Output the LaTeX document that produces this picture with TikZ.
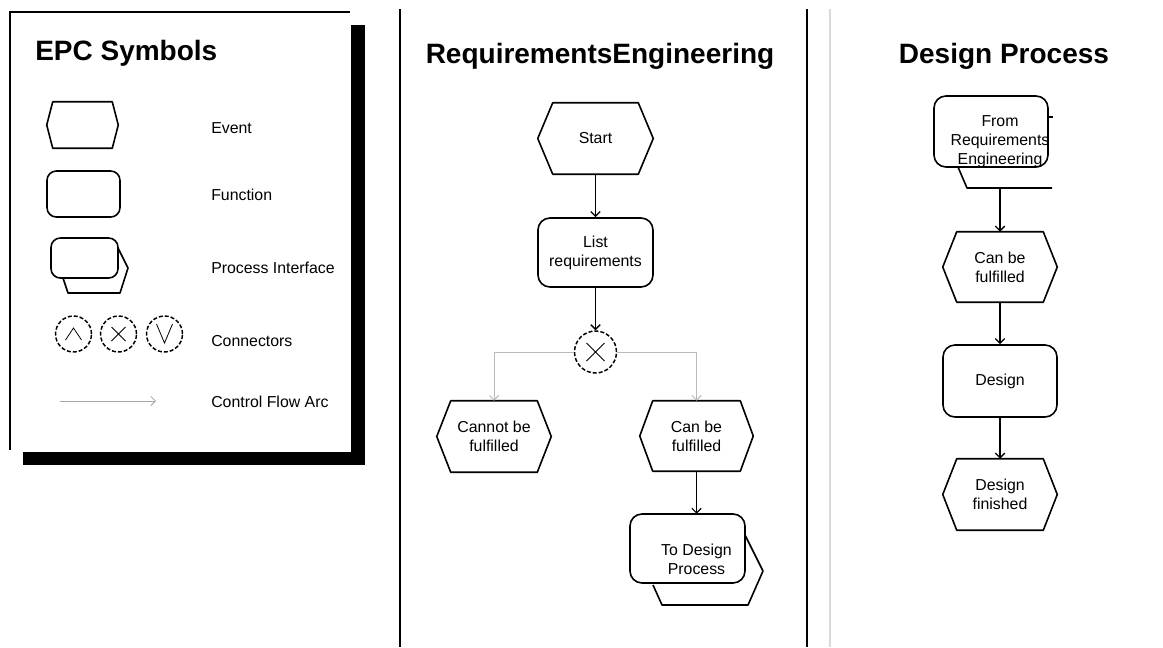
\documentclass[tikz,border=0pt]{standalone}
\usepackage{fontspec}
\setmainfont{Liberation Sans}
\usetikzlibrary{calc,arrows.meta}
\newcommand\epcbody{\fontsize{11.9}{14.2}\selectfont}
\newcommand\epctitle{\fontsize{21}{25}\selectfont\bfseries}
\newcommand\hexdraw[2]{\draw[shapeline] ($(#1.north west)+(#2,0)$) -- ($(#1.north east)+(-#2,0)$) -- (#1.east) -- ($(#1.south east)+(-#2,0)$) -- ($(#1.south west)+(#2,0)$) -- (#1.west) -- cycle;}
\tikzset{
  shapeline/.style={line width=1.2pt, draw=black, line join=round},
  hexnode/.style={draw=none, inner sep=0pt, align=center, font=\epcbody},
  fnbox/.style={shapeline, rounded corners=7pt, inner sep=0pt, align=center, font=\epcbody},
  conn/.style={circle, draw=black, dash pattern=on 3pt off 1.5pt, line width=1.1pt, inner sep=0pt},
  connsym/.style={line width=0.6pt, black},
  flow/.style={line width=1pt, black, -{Straight Barb[length=3.5pt,width=7pt]}},
  grayflow/.style={line width=0.7pt, gray!55, -{Straight Barb[length=3.5pt,width=7pt]}},
  legendtext/.style={anchor=base west, font=\epcbody, inner sep=0pt},
  titletext/.style={font=\epctitle, inner sep=0pt},
  divider/.style={line width=1.3pt, black},
}
\begin{document}
\begin{tikzpicture}[x=0.75pt, y=-0.75pt]
\useasboundingbox (0,0) rectangle (1163,647);

% ---------- legend panel ----------
\fill[black] (23,25) rectangle (365,465);
\fill[white] (10,12) rectangle (351,452);
\draw[line width=1pt] (10,450) -- (10,12) -- (350,12);
\node[titletext, anchor=base west] (ltitle) at (35,60) {EPC Symbols};

\node[hexnode, minimum width=53.25pt, minimum height=34.5pt] (lev) at (82.5,125) {};
\hexdraw{lev}{6}
\node[fnbox, minimum width=54.75pt, minimum height=34.5pt] (lfn) at (83.5,194) {};
\node[fnbox, minimum width=50.25pt, minimum height=30pt] (lpi) at (84.5,258) {};
\draw[shapeline] (118,248) -- (128,268) -- (120,293) -- (68,293) -- (63,278);

\node[conn, minimum size=27pt] (c1) at (73.5,334) {};
\node[conn, minimum size=27pt] (c2) at (118.5,334) {};
\node[conn, minimum size=27pt] (c3) at (164.5,334) {};
\draw[connsym] ($(c1)+(-8,6)$) -- ($(c1)+(0,-6)$) -- ($(c1)+(8,6)$);
\draw[connsym] ($(c2)+(-7,-7)$) -- ($(c2)+(7,7)$) ($(c2)+(-7,7)$) -- ($(c2)+(7,-7)$);
\draw[connsym] ($(c3)+(-8,-10)$) -- ($(c3)+(0,9)$) -- ($(c3)+(8,-10)$);

\coordinate (arcA) at (60,401);
\coordinate (arcB) at (156,401);
\draw[line width=0.6pt, gray!70, -{Straight Barb[length=3.5pt,width=7pt]}] (arcA) -- (arcB);

\node[legendtext] (tev) at (211,133) {Event};
\node[legendtext] (tfn) at (211,200) {Function};
\node[legendtext] (tpi) at (211,273) {Process Interface};
\node[legendtext] (tco) at (211,346) {Connectors};
\node[legendtext] (tar) at (211,407) {Control Flow Arc};

% ---------- dividers ----------
\draw[divider] (400,9) -- (400,647);
\draw[divider] (807,9) -- (807,647);
\draw[line width=0.8pt, gray!30] (830,9) -- (830,647);

% ---------- Requirements Engineering ----------
\node[titletext, anchor=base] (mtitle) at (600,63) {RequirementsEngineering};

\node[hexnode, minimum width=86.25pt, minimum height=53.25pt] (start) at (595.5,138.5) {Start};
\hexdraw{start}{15}
\node[fnbox, rounded corners=9pt, minimum width=86.25pt, minimum height=51.75pt] (list) at (595.5,252.5) {List\\requirements};
\node[conn, minimum size=31.5pt] (xor) at (595.5,352) {};
\draw[connsym] ($(xor)+(-9,-9)$) -- ($(xor)+(9,9)$) ($(xor)+(-9,9)$) -- ($(xor)+(9,-9)$);

\node[hexnode, minimum width=85.5pt, minimum height=53.25pt] (cannot) at (494,436.5) {Cannot be\\fulfilled};
\hexdraw{cannot}{14}
\node[hexnode, minimum width=84.75pt, minimum height=52.5pt] (can1) at (696.5,436) {Can be\\fulfilled};
\hexdraw{can1}{13}

\node[hexnode, minimum width=99.75pt, minimum height=68.25pt] (todesign) at (696.5,559.5) {To Design\\Process};
\draw[shapeline, rounded corners=9pt] (630,514) rectangle (745,583);
\draw[shapeline] (745,535) -- (763,571) -- (748,605) -- (662,605) -- (653,585);

\draw[flow] (start.south) -- (list.north);
\draw[flow] (list.south) -- (xor.north);
\draw[grayflow] (xor.west) -| (cannot.north);
\draw[grayflow] (xor.east) -| (can1.north);
\draw[flow, line width=0.8pt] (can1.south) -- (todesign.north);

% ---------- Design Process ----------
\node[titletext, anchor=base] (rtitle) at (1004,63) {Design Process};

\node[hexnode, minimum width=99pt, minimum height=69pt] (fromre) at (1000,142) {From\\Requirements\\Engineering};
\draw[shapeline, rounded corners=9pt] (934,96) rectangle (1048,167);
\draw[shapeline] (1048,117) -- (1053,117);
\draw[shapeline] (958,167) -- (967,188) -- (1052,188);

\node[hexnode, minimum width=85.5pt, minimum height=52.5pt] (can2) at (1000,267) {Can be\\fulfilled};
\hexdraw{can2}{14}
\node[fnbox, rounded corners=9pt, minimum width=85.5pt, minimum height=54pt] (design) at (1000,381) {Design};
\node[hexnode, minimum width=85.5pt, minimum height=53.25pt] (dfin) at (1000,494.5) {Design\\finished};
\hexdraw{dfin}{14}

\coordinate (fromreout) at (1000,188);
\draw[flow] (fromreout) -- (can2.north);
\draw[flow] (can2.south) -- (design.north);
\draw[flow] (design.south) -- (dfin.north);
\end{tikzpicture}
\end{document}
